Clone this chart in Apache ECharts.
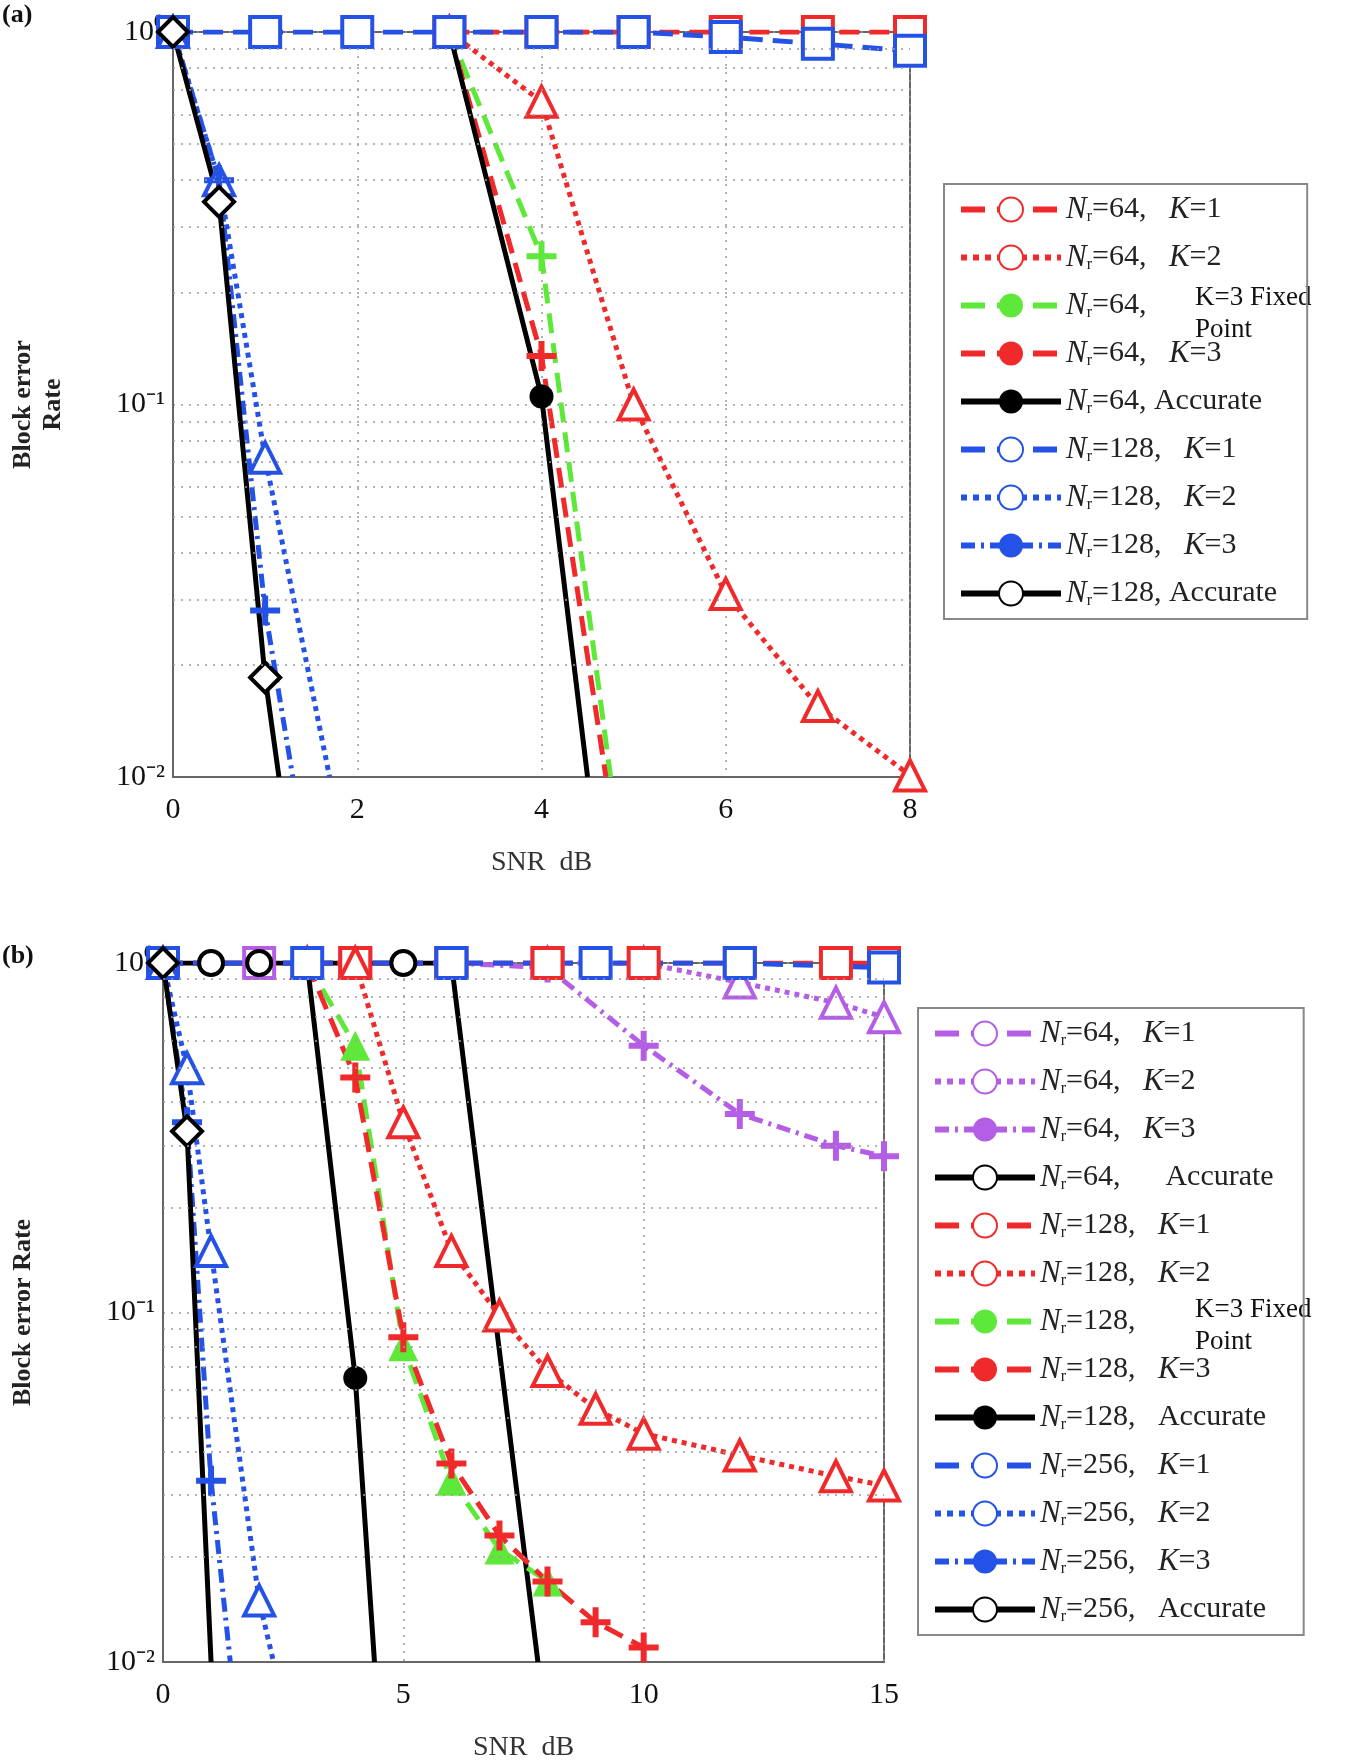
<!DOCTYPE html>
<html><head><meta charset="utf-8">
<script src="https://cdn.jsdelivr.net/npm/echarts@6/dist/echarts.min.js"></script>
<style>html,body{margin:0;background:#fff}#c{width:1363px;height:1763px}</style>
</head><body><div id="c"></div>
<script>
// (a) SNR dB vs block error rate
const a64k1 = [[3,1],[4,1],[5,1],[6,1],[7,1],[8,1]];
const a64k2 = [[3,1],[4,0.65],[5,0.1],[6,0.031],[7,0.0155],[8,0.0101]];
const a64k3fx = [[3,1],[4,0.25],[4.75,0.01]];
const a64k3 = [[3,1],[4,0.135],[4.7,0.01]];
const a64acc = [[3,1],[4,0.105],[4.5,0.01]];
const a128k1 = [[0,1],[1,1],[2,1],[3,1],[4,1],[5,1],[6,0.97],[7,0.93],[8,0.89]];
const a128k2 = [[0,1],[0.5,0.4],[1,0.072],[1.7,0.01]];
const a128k3 = [[0,1],[0.5,0.4],[1,0.028],[1.3,0.01]];
const a128acc = [[0,1],[0.5,0.35],[1,0.0185],[1.15,0.01]];
// (b)
const b64k1 = [[0,1],[2,1],[4,1],[6,1],[8,1]];
const b64k2 = [[8,1],[10,1],[12,0.88],[14,0.77],[15,0.7]];
const b64k3 = [[6,1],[8,0.97],[10,0.58],[12,0.37],[14,0.3],[15,0.28]];
const b64acc = [[0,1],[1,1],[2,1],[3,1],[4,1],[5,1],[6,1],[7.8,0.01]];
const b128k1 = [[0,1],[4,1],[6,1],[8,1],[10,1],[12,1],[14,1],[15,1]];
const b128k2 = [[3,1],[4,1],[5,0.35],[6,0.15],[7,0.098],[8,0.068],[9,0.053],[10,0.045],[12,0.039],[14,0.034],[15,0.032]];
const b128k3fx = [[3,1],[4,0.58],[5,0.08],[6,0.033],[7,0.021],[8,0.017]];
const b128k3 = [[3,1],[4,0.47],[5,0.085],[6,0.037],[7,0.023],[8,0.017],[9,0.013],[10,0.011]];
const b128acc = [[3,1],[4,0.065],[4.4,0.01]];
const b256k1 = [[0,1],[3,1],[6,1],[9,1],[12,1],[15,0.97]];
const b256k2 = [[0,1],[0.5,0.5],[1,0.15],[2,0.015],[2.3,0.01]];
const b256k3 = [[0,1],[0.5,0.35],[1,0.033],[1.4,0.01]];
const b256acc = [[0,1],[0.5,0.33],[1,0.01]];
const minorTicks = [0.02,0.03,0.04,0.05,0.06,0.07,0.08,0.09,0.2,0.3,0.4,0.5,0.6,0.7,0.8,0.9];
const expLabels = { '0': '10⁰', '-1': '10⁻¹', '-2': '10⁻²' };

const RED = '#f02a2a', BLUE = '#2552e6', GREEN = '#5ee83a', PURPLE = '#b45ee6', BLACK = '#000';
const PLUS = 'path://M4,0H6V4H10V6H6V10H4V6H0V4H4Z';
const serif = 'Liberation Serif';

function s(name, g, data, color, type, sym, hollow) {
  return {
    name, type: 'line', xAxisIndex: g, yAxisIndex: g, data,
    symbol: v => (v[1] === 0.01 ? 'none' : sym),
    symbolSize: sym === 'circle' ? 24 : 30,
    lineStyle: { color, width: 5, type },
    itemStyle: hollow ? { color: '#fff', borderColor: color, borderWidth: 4 } : { color, borderColor: color, borderWidth: 0 },
    z: 3
  };
}
function lbl(n, k) {
  return '{i|N}{s|r}=' + n + ',' + (k ? '   {i|K}=' + k : '');
}
const legendText = {};
const A = [
  ['a1', lbl(64,1), a64k1, RED, 'dashed', 'rect', 1],
  ['a2', lbl(64,2), a64k2, RED, 'dotted', 'triangle', 1],
  ['a3', lbl(64,''), a64k3fx, GREEN, 'dashed', PLUS, 0],
  ['a4', lbl(64,3), a64k3, RED, 'dashed', PLUS, 0],
  ['a5', '{i|N}{s|r}=64, Accurate', a64acc, BLACK, 'solid', 'circle', 0],
  ['a6', lbl(128,1), a128k1, BLUE, 'dashed', 'rect', 1],
  ['a7', lbl(128,2), a128k2, BLUE, 'dotted', 'triangle', 1],
  ['a8', lbl(128,3), a128k3, BLUE, [14,6,3,6], PLUS, 0],
  ['a9', '{i|N}{s|r}=128, Accurate', a128acc, BLACK, 'solid', 'diamond', 1]
];
const B = [
  ['b1', lbl(64,1), b64k1, PURPLE, 'dashed', 'rect', 1],
  ['b2', lbl(64,2), b64k2, PURPLE, 'dotted', 'triangle', 1],
  ['b3', lbl(64,3), b64k3, PURPLE, [14,6,3,6], PLUS, 0],
  ['b4', '{i|N}{s|r}=64,      Accurate', b64acc, BLACK, 'solid', 'circle', 1],
  ['b5', lbl(128,1), b128k1, RED, 'dashed', 'rect', 1],
  ['b6', lbl(128,2), b128k2, RED, 'dotted', 'triangle', 1],
  ['b7', lbl(128,''), b128k3fx, GREEN, 'dashed', 'triangle', 0],
  ['b8', lbl(128,3), b128k3, RED, 'dashed', PLUS, 0],
  ['b9', '{i|N}{s|r}=128,   Accurate', b128acc, BLACK, 'solid', 'circle', 0],
  ['b10', lbl(256,1), b256k1, BLUE, 'dashed', 'rect', 1],
  ['b11', lbl(256,2), b256k2, BLUE, 'dotted', 'triangle', 1],
  ['b12', lbl(256,3), b256k3, BLUE, [14,6,3,6], PLUS, 0],
  ['b13', '{i|N}{s|r}=256,   Accurate', b256acc, BLACK, 'solid', 'diamond', 1]
];
const series = [];
A.forEach(r => { legendText[r[0]] = r[1]; series.push(s(r[0], 0, r[2], r[3], r[4], r[5], r[6])); });
B.forEach(r => { legendText[r[0]] = r[1]; series.push(s(r[0], 1, r[2], r[3], r[4], r[5], r[6])); });
[0,1].forEach(g => series.push({
  type: 'line', xAxisIndex: g, yAxisIndex: g, data: [], silent: true, z: 1,
  markLine: { silent: true, symbol: 'none', label: { show: false },
    lineStyle: { color: '#999', type: [2,6], width: 1.5 },
    data: minorTicks.map(v => ({ yAxis: v })) }
}));

const rich = {
  i: { fontFamily: serif, fontStyle: 'italic', fontSize: 31, color: '#222' },
  s: { fontFamily: serif, fontSize: 16, verticalAlign: 'bottom', padding: [14,0,0,0], color: '#222' }
};
function legend(names, left, top, gap) {
  return {
    data: names, orient: 'vertical', left, top, itemWidth: 100, itemHeight: 30, itemGap: gap,
    borderColor: '#888', borderWidth: 2, padding: [10, 30, 10, 14],
    lineStyle: { width: 6 },
    formatter: n => legendText[n],
    textStyle: { fontFamily: serif, fontSize: 30, color: '#222', rich }
  };
}
function xAx(g, max, interval) {
  return {
    type: 'value', gridIndex: g, min: 0, max, interval,
    axisLine: { onZero: false, lineStyle: { color: '#666', width: 2 } },
    axisTick: { show: false },
    axisLabel: { fontFamily: serif, fontSize: 30, color: '#111', margin: 18 },
    splitLine: { show: true, lineStyle: { color: '#999', type: [2,6], width: 1.5 } },
    name: 'SNR  dB', nameLocation: 'middle', nameGap: 72,
    nameTextStyle: { fontFamily: serif, fontSize: 28, color: '#333' }
  };
}
function yAx(g, name, gap) {
  return {
    type: 'log', gridIndex: g, min: 0.01, max: 1, logBase: 10,
    axisLine: { lineStyle: { color: '#666', width: 2 } },
    axisTick: { show: false },
    axisLabel: {
      fontFamily: serif, fontSize: 30, color: '#111',
      formatter: v => expLabels[String(Math.round(Math.log10(v)))]
    },
    splitLine: { show: true, lineStyle: { color: '#999', type: [2,6], width: 1.5 } },
    name, nameLocation: 'middle', nameGap: gap, nameRotate: 90,
    nameTextStyle: { fontFamily: serif, fontSize: 26, fontWeight: 'bold', color: '#222', lineHeight: 30 }
  };
}
const chart = echarts.init(document.getElementById('c'));
chart.setOption({
  backgroundColor: '#fff',
  animation: false,
  grid: [
    { left: 160, top: 32, width: 750, height: 745, show: true, borderColor: '#666', borderWidth: 2 },
    { left: 155, top: 963, width: 729, height: 699, show: true, borderColor: '#666', borderWidth: 2 }
  ],
  xAxis: [xAx(0, 8, 2), xAx(1, 15, 5)],
  yAxis: [yAx(0, 'Block error\nRate', 105), yAx(1, 'Block error Rate', 125)],
  legend: [legend(A.map(r => r[0]), 944, 184, 17), legend(B.map(r => r[0]), 918, 1008, 17)],
  graphic: [
    { type: 'text', left: 2, top: 2, style: { text: '(a)', font: 'bold 26px "Liberation Serif"', fill: '#111' } },
    { type: 'text', left: 2, top: 943, style: { text: '(b)', font: 'bold 26px "Liberation Serif"', fill: '#111' } },
    { type: 'text', left: 1195, top: 282, style: { text: 'K=3 Fixed\nPoint', font: '27px "Liberation Serif"', lineHeight: 32, fill: '#111' } },
    { type: 'text', left: 1195, top: 1294, style: { text: 'K=3 Fixed\nPoint', font: '27px "Liberation Serif"', lineHeight: 32, fill: '#111' } }
  ],
  series
});
</script></body></html>
